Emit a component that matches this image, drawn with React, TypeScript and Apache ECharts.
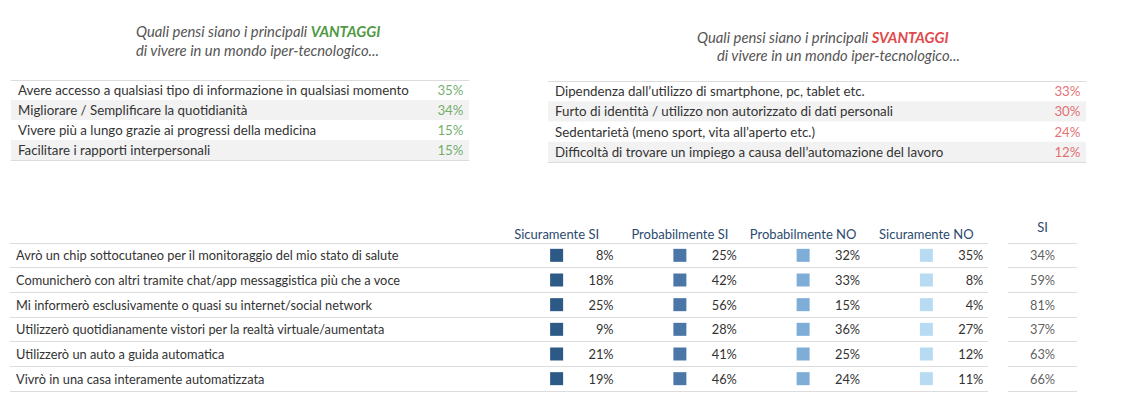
import React, { useEffect, useRef } from 'react';
import * as echarts from 'echarts';

const advantageLabels = [
  'Avere accesso a qualsiasi tipo di informazione in qualsiasi momento',
  'Migliorare / Semplificare la quotidianità',
  'Vivere più a lungo grazie ai progressi della medicina',
  'Facilitare i rapporti interpersonali',
];
const advantageValues = [35, 34, 15, 15];

const disadvantageLabels = [
  'Dipendenza dall\u2019utilizzo di smartphone, pc, tablet etc.',
  'Furto di identità / utilizzo non autorizzato di dati personali',
  'Sedentarietà (meno sport, vita all\u2019aperto etc.)',
  'Difficoltà di trovare un impiego a causa dell\u2019automazione del lavoro',
];
const disadvantageValues = [33, 30, 24, 12];

const statements = [
  'Avrò un chip sottocutaneo per il monitoraggio del mio stato di salute',
  'Comunicherò con altri tramite chat/app messaggistica più che a voce',
  'Mi informerò esclusivamente o quasi su internet/social network',
  'Utilizzerò quotidianamente vistori per la realtà virtuale/aumentata',
  'Utilizzerò un auto a guida automatica',
  'Vivrò in una casa interamente automatizzata',
];
const answerColumns = ['Sicuramente SI', 'Probabilmente SI', 'Probabilmente NO', 'Sicuramente NO'];
const sicuramenteSi = [8, 18, 25, 9, 21, 19];
const probabilmenteSi = [25, 42, 56, 28, 41, 46];
const probabilmenteNo = [32, 33, 15, 36, 25, 24];
const sicuramenteNo = [35, 8, 4, 27, 12, 11];
const totalSiColumn = ['SI'];
const totalSi = [34, 59, 81, 37, 63, 66];

const FONT = 'Lato, "Open Sans", sans-serif';
const TEXT = '#333333';
const HEADER = '#2b4a6e';
const GREEN = '#4f9a45';
const RED = '#e04a4c';
const TITLE = '#555555';
const LINE = '#dcdcdc';
const answerColors = ['#2c5985', '#4a76a8', '#7eadd7', '#b6dbf2'];
const answerValues = [sicuramenteSi, probabilmenteSi, probabilmenteNo, sicuramenteNo];

const TOP_FS = 13.3;
const BODY_FS = 12.8;
const TITLE_FS = 14.8;
const HEAD_FS = 13;

function buildOption(): any {
  const hiddenValueAxis = (gridIndex: number, position: string, showLine: boolean) => ({
    type: 'value',
    gridIndex,
    position,
    min: 0,
    max: 1,
    show: showLine,
    axisLine: { show: showLine, lineStyle: { color: LINE, width: 1 } },
    axisTick: { show: false },
    axisLabel: { show: false },
    splitLine: { show: false },
  });

  const topCatAxis = (gridIndex: number, data: string[]) => ({
    type: 'category',
    gridIndex,
    data,
    inverse: true,
    axisLine: { show: false },
    axisTick: { show: false },
    axisLabel: { inside: true, margin: 7, color: TEXT, fontSize: TOP_FS, fontFamily: FONT, interval: 0 },
    splitLine: { show: false },
    splitArea: { show: true, areaStyle: { color: ['rgba(255,255,255,0)', '#f2f2f2'] } },
  });

  const titleText = (x: number, y: number, parts: { t: string; s: string }[]) => ({
    type: 'text',
    x,
    y,
    style: {
      text: parts.map((p) => `{${p.s}|${p.t}}`).join(''),
      verticalAlign: 'middle',
      align: 'left',
      rich: {
        a: { fill: TITLE, fontSize: TITLE_FS, fontStyle: 'italic', fontFamily: FONT },
        g: { fill: GREEN, fontSize: TITLE_FS, fontStyle: 'italic', fontWeight: 'bold', fontFamily: FONT },
        r: { fill: RED, fontSize: TITLE_FS, fontStyle: 'italic', fontWeight: 'bold', fontFamily: FONT },
      },
    },
  });

  const pctSeries = (xAxisIndex: number, yAxisIndex: number, labels: string[], values: number[], color: string) => ({
    type: 'scatter',
    xAxisIndex,
    yAxisIndex,
    symbolSize: 1,
    itemStyle: { color: 'rgba(0,0,0,0)' },
    data: values.map((v, i) => [1, labels[i], v]),
    label: {
      show: true,
      position: 'left',
      distance: 5,
      color,
      fontSize: TOP_FS,
      fontFamily: FONT,
      formatter: (p: any) => p.value[2] + '%',
    },
  });

  return {
    animation: false,
    textStyle: { fontFamily: FONT },
    graphic: [
      titleText(136, 31, [{ t: 'Quali pensi siano i principali ', s: 'a' }, { t: 'VANTAGGI', s: 'g' }]),
      titleText(136, 50, [{ t: 'di vivere in un mondo iper-tecnologico...', s: 'a' }]),
      titleText(697, 37, [{ t: 'Quali pensi siano i principali ', s: 'a' }, { t: 'SVANTAGGI', s: 'r' }]),
      titleText(717, 55, [{ t: 'di vivere in un mondo iper-tecnologico...', s: 'a' }]),
    ],
    grid: [
      { left: 11, top: 80, width: 458, height: 80 },
      { left: 548, top: 81, width: 538, height: 81 },
      { left: 10, top: 243, width: 978, height: 148 },
      { left: 495, top: 243, width: 493, height: 148 },
      { left: 1008, top: 243, width: 69, height: 148 },
    ],
    xAxis: [
      hiddenValueAxis(0, 'bottom', true),
      hiddenValueAxis(0, 'top', true),
      hiddenValueAxis(1, 'bottom', true),
      hiddenValueAxis(1, 'top', true),
      hiddenValueAxis(2, 'bottom', false),
      {
        type: 'category',
        gridIndex: 3,
        position: 'top',
        data: answerColumns,
        axisLine: { show: false },
        axisTick: { show: false },
        axisLabel: { color: HEADER, fontSize: HEAD_FS, fontFamily: FONT, margin: 3, interval: 0 },
        splitLine: { show: false },
      },
      {
        type: 'category',
        gridIndex: 4,
        position: 'top',
        data: totalSiColumn,
        axisLine: { show: false },
        axisTick: { show: false },
        axisLabel: { color: HEADER, fontSize: HEAD_FS, fontFamily: FONT, margin: 10, interval: 0 },
        splitLine: { show: false },
      },
    ],
    yAxis: [
      topCatAxis(0, advantageLabels),
      topCatAxis(1, disadvantageLabels),
      {
        type: 'category',
        gridIndex: 2,
        data: statements,
        inverse: true,
        axisLine: { show: false },
        axisTick: { show: false },
        axisLabel: { inside: true, margin: 6, color: TEXT, fontSize: BODY_FS, fontFamily: FONT, interval: 0 },
        splitLine: { show: true, interval: 0, lineStyle: { color: LINE, width: 1 } },
      },
      {
        type: 'category',
        gridIndex: 3,
        data: statements,
        inverse: true,
        show: false,
      },
      {
        type: 'category',
        gridIndex: 4,
        data: statements,
        inverse: true,
        axisLine: { show: false },
        axisTick: { show: false },
        axisLabel: { show: false },
        splitLine: { show: true, interval: 0, lineStyle: { color: LINE, width: 1 } },
      },
    ],
    series: [
      pctSeries(0, 0, advantageLabels, advantageValues, GREEN),
      pctSeries(2, 1, disadvantageLabels, disadvantageValues, RED),
      ...answerColumns.map((col, k) => ({
        type: 'scatter',
        name: col,
        xAxisIndex: 5,
        yAxisIndex: 3,
        symbol: 'rect',
        symbolSize: 13,
        itemStyle: { color: answerColors[k], opacity: 1 },
        data: statements.map((s, i) => [col, s, answerValues[k][i]]),
        label: {
          show: true,
          position: [63.5, 6.5],
          align: 'right',
          verticalAlign: 'middle',
          color: TEXT,
          fontSize: BODY_FS,
          fontFamily: FONT,
          formatter: (p: any) => p.value[2] + '%',
        },
      })),
      {
        type: 'scatter',
        xAxisIndex: 6,
        yAxisIndex: 4,
        symbolSize: 1,
        itemStyle: { color: 'rgba(0,0,0,0)' },
        data: statements.map((s, i) => [totalSiColumn[0], s, totalSi[i]]),
        label: {
          show: true,
          position: 'inside',
          color: TEXT,
          fontSize: BODY_FS,
          fontFamily: FONT,
          formatter: (p: any) => p.value[2] + '%',
        },
      },
    ],
  };
}

export default function App() {
  const ref = useRef<HTMLDivElement>(null);
  useEffect(() => {
    if (!ref.current) return;
    const chart = echarts.init(ref.current, undefined, { renderer: 'svg' });
    chart.setOption(buildOption());
    return () => chart.dispose();
  }, []);
  return (
    <div
      ref={ref}
      style={{ position: 'fixed', left: 0, top: 0, width: 1132, height: 420, background: '#ffffff' }}
    />
  );
}
